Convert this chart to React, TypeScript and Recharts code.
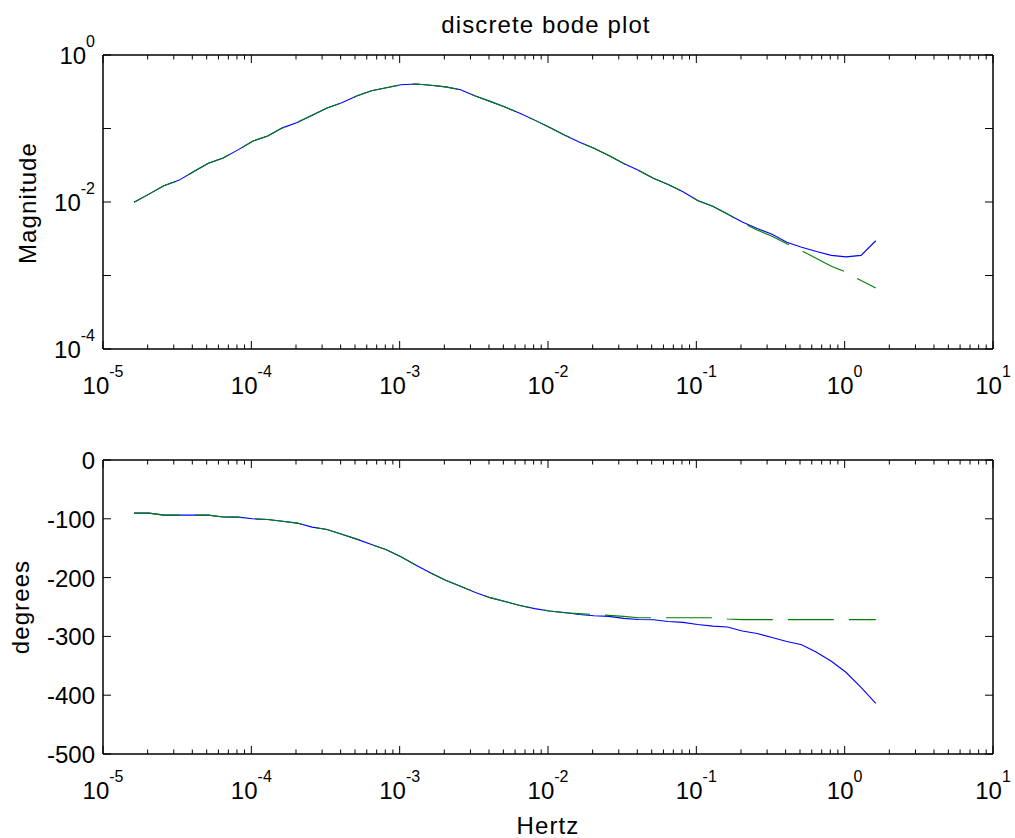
import { LineChart, Line, XAxis, YAxis } from 'recharts';

const FONT = '"Liberation Sans", Arial, Helvetica, sans-serif';

// frequency grid, Hz (log spaced, ~0.1 decade)
const freq = [
  1.62e-5, 2.04e-5, 2.57e-5, 3.24e-5, 4.07e-5, 5.13e-5, 6.46e-5, 8.13e-5,
  1.02e-4, 1.29e-4, 1.62e-4, 2.04e-4, 2.57e-4, 3.24e-4, 4.07e-4, 5.13e-4, 6.46e-4, 8.13e-4,
  1.02e-3, 1.29e-3, 1.62e-3, 2.04e-3, 2.57e-3, 3.24e-3, 4.07e-3, 5.13e-3, 6.46e-3, 8.13e-3,
  1.02e-2, 1.29e-2, 1.62e-2, 2.04e-2, 2.57e-2, 3.24e-2, 4.07e-2, 5.13e-2, 6.46e-2, 8.13e-2,
  0.102, 0.129, 0.162, 0.204, 0.257, 0.324, 0.407, 0.513, 0.646, 0.813,
  1.02, 1.29, 1.62,
];

// discrete response (blue, solid)
const magDiscrete = [
  0.0099, 0.0128, 0.0166, 0.0197, 0.0258, 0.0337, 0.0397, 0.0512, 0.0672, 0.0792,
  0.102, 0.121, 0.152, 0.19, 0.224, 0.277, 0.327, 0.359, 0.394, 0.404,
  0.388, 0.368, 0.337, 0.276, 0.234, 0.196, 0.161, 0.13, 0.104, 0.0817,
  0.0655, 0.0538, 0.0428, 0.0334, 0.027, 0.021, 0.0173, 0.0138, 0.0105, 0.00877,
  0.00689, 0.00535, 0.00436, 0.00364, 0.00283, 0.00243, 0.00212, 0.00188, 0.00179, 0.00188,
  0.00297,
];
const phaseDiscrete = [
  -90.4, -90.4, -93.7, -93.7, -93.7, -93.7, -96.9, -97.1, -100.0, -101.2,
  -104.2, -107.3, -114.2, -118.1, -126.4, -134.6, -143.7, -152.8, -164.6, -179.0,
  -192.3, -204.4, -214.7, -225.2, -234.1, -240.5, -247.4, -252.8, -256.7, -259.3,
  -262.7, -264.9, -265.9, -269.4, -271.3, -271.6, -274.6, -276.1, -279.7, -282.5,
  -284.0, -290.7, -295.2, -301.8, -308.6, -314.2, -326.9, -342.3, -361.0, -386.7,
  -414.0,
];

// continuous response (green, dashed)
const magContinuous = [
  0.0099, 0.0128, 0.0166, 0.0197, 0.0258, 0.0337, 0.0397, 0.0512, 0.0672, 0.0792,
  0.102, 0.121, 0.152, 0.19, 0.224, 0.277, 0.327, 0.359, 0.394, 0.404,
  0.388, 0.368, 0.337, 0.276, 0.234, 0.196, 0.161, 0.13, 0.104, 0.0817,
  0.0655, 0.0538, 0.0428, 0.0334, 0.027, 0.021, 0.0173, 0.0138, 0.0105, 0.00877,
  0.00689, 0.0052, 0.00415, 0.00342, 0.0027, 0.00218, 0.0017, 0.00134, 0.00111, 0.000853,
  0.000678,
];
const phaseContinuous = [
  -90.4, -90.4, -93.7, -93.7, -93.7, -93.7, -96.9, -97.1, -100.0, -101.2,
  -104.2, -107.3, -114.2, -118.1, -126.4, -134.6, -143.7, -152.8, -164.6, -179.0,
  -192.3, -204.4, -214.7, -225.2, -234.1, -240.5, -247.4, -252.8, -256.7, -259.8,
  -261.3, -262.7, -264.3, -266.0, -268.2, -268.2, -268.2, -268.2, -268.2, -268.2,
  -270.3, -271.5, -271.5, -271.5, -271.5, -271.5, -271.5, -271.5, -271.5, -271.5,
  -271.5,
];

const decades = [1e-5, 1e-4, 1e-3, 1e-2, 1e-1, 1, 10];
const xTicks = decades.flatMap((d, i) =>
  i === decades.length - 1 ? [d] : [1, 2, 3, 4, 5, 6, 7, 8, 9].map((m) => m * d),
);
const magTicks = [1e-4, 1e-3, 1e-2, 1e-1, 1];
const phaseTicks = [-500, -400, -300, -200, -100, 0];

const rows = freq.map((f, i) => ({
  f,
  mag: magDiscrete[i],
  magC: magContinuous[i],
  ph: phaseDiscrete[i],
  phC: phaseContinuous[i],
}));

const exp10 = (v: number) => Math.round(Math.log10(v));
const isDecade = (v: number) => Math.abs(Math.log10(v) - exp10(v)) < 1e-6;

const Pow = ({ v }: { v: number }) => (
  <>
    10<tspan dy={-17} fontSize={16}>{String(exp10(v))}</tspan>
  </>
);

function XTick(props: any) {
  const { x, y, payload, side, labels } = props;
  const major = isDecade(payload.value);
  const len = major ? 8 : 4.5;
  const dir = side === 'top' ? 1 : -1;
  return (
    <g>
      <line x1={x} x2={x} y1={y} y2={y + dir * len} stroke="#000" strokeWidth={1} />
      {labels && major && (
        <text x={x} y={y + 45} textAnchor="middle" fontSize={24} fontFamily={FONT} fill="#000">
          <Pow v={payload.value} />
        </text>
      )}
    </g>
  );
}

function YTick(props: any) {
  const { x, y, payload, side, kind } = props;
  const dir = side === 'right' ? -1 : 1;
  const v = payload.value;
  let label: any = null;
  if (side === 'left') {
    if (kind === 'log') {
      if (exp10(v) % 2 === 0) label = <Pow v={v} />;
    } else {
      label = String(v);
    }
  }
  return (
    <g>
      <line x1={x} x2={x + dir * 8} y1={y} y2={y} stroke="#000" strokeWidth={1} />
      {label !== null && (
        <text x={x - 8} y={y + 9} textAnchor="end" fontSize={24} fontFamily={FONT} fill="#000">
          {label}
        </text>
      )}
    </g>
  );
}

const frame = { stroke: '#000', strokeWidth: 1.5 };

function Axes({ log }: { log: boolean }) {
  return null;
}

export default function App() {
  const xCommon = {
    dataKey: 'f',
    type: 'number' as const,
    scale: 'log' as const,
    domain: [1e-5, 10],
    ticks: xTicks,
    interval: 0 as const,
    allowDataOverflow: true,
    tickSize: 0,
    tickMargin: 0,
    tickLine: false,
    axisLine: frame,
  };
  return (
    <div style={{ position: 'absolute', left: 0, top: 0, width: 1015, height: 838, background: '#fff' }}>
      <div style={{ position: 'absolute', left: 0, top: 0 }}>
        <LineChart width={1015} height={400} data={rows} margin={{ top: 54, right: 21, bottom: 21, left: 43 }}>
          <XAxis {...xCommon} xAxisId="b" orientation="bottom" height={30} tick={(p: any) => <XTick {...p} side="bottom" labels />} />
          <XAxis {...xCommon} xAxisId="t" orientation="top" height={1} tick={(p: any) => <XTick {...p} side="top" />} />
          <YAxis yAxisId="l" orientation="left" width={60} type="number" scale="log" domain={[1e-4, 1]} ticks={magTicks}
            interval={0} allowDataOverflow tickSize={0} tickMargin={0} tickLine={false} axisLine={frame}
            tick={(p: any) => <YTick {...p} side="left" kind="log" />} />
          <YAxis yAxisId="r" orientation="right" width={1} type="number" scale="log" domain={[1e-4, 1]} ticks={magTicks}
            interval={0} allowDataOverflow tickSize={0} tickMargin={0} tickLine={false} axisLine={frame}
            tick={(p: any) => <YTick {...p} side="right" kind="log" />} />
          <Line xAxisId="b" yAxisId="l" dataKey="mag" stroke="#0000ff" strokeWidth={1.1} dot={false} isAnimationActive={false} />
          <Line xAxisId="b" yAxisId="l" dataKey="magC" stroke="#008000" strokeWidth={1.1} strokeDasharray="46 15" dot={false} isAnimationActive={false} />
        </LineChart>
      </div>
      <div style={{ position: 'absolute', left: 0, top: 400 }}>
        <LineChart width={1015} height={438} data={rows} margin={{ top: 59, right: 21, bottom: 54, left: 43 }}>
          <XAxis {...xCommon} xAxisId="b" orientation="bottom" height={30} tick={(p: any) => <XTick {...p} side="bottom" labels />} />
          <XAxis {...xCommon} xAxisId="t" orientation="top" height={1} tick={(p: any) => <XTick {...p} side="top" />} />
          <YAxis yAxisId="l" orientation="left" width={60} type="number" domain={[-500, 0]} ticks={phaseTicks}
            interval={0} allowDataOverflow tickSize={0} tickMargin={0} tickLine={false} axisLine={frame}
            tick={(p: any) => <YTick {...p} side="left" kind="lin" />} />
          <YAxis yAxisId="r" orientation="right" width={1} type="number" domain={[-500, 0]} ticks={phaseTicks}
            interval={0} allowDataOverflow tickSize={0} tickMargin={0} tickLine={false} axisLine={frame}
            tick={(p: any) => <YTick {...p} side="right" kind="lin" />} />
          <Line xAxisId="b" yAxisId="l" dataKey="ph" stroke="#0000ff" strokeWidth={1.1} dot={false} isAnimationActive={false} />
          <Line xAxisId="b" yAxisId="l" dataKey="phC" stroke="#008000" strokeWidth={1.1} strokeDasharray="46 15" dot={false} isAnimationActive={false} />
        </LineChart>
      </div>
      <svg width={1015} height={838} style={{ position: 'absolute', left: 0, top: 0, pointerEvents: 'none' }}
        fontFamily={FONT} fontSize={24} fill="#000">
        <text x={546} y={33} textAnchor="middle" letterSpacing={1.1}>discrete bode plot</text>
        <text transform="translate(36,203) rotate(-90)" textAnchor="middle" letterSpacing={1.1}>Magnitude</text>
        <text transform="translate(29,607) rotate(-90)" textAnchor="middle" letterSpacing={1.1}>degrees</text>
        <text x={548} y={834} textAnchor="middle" letterSpacing={1.1}>Hertz</text>
      </svg>
    </div>
  );
}
